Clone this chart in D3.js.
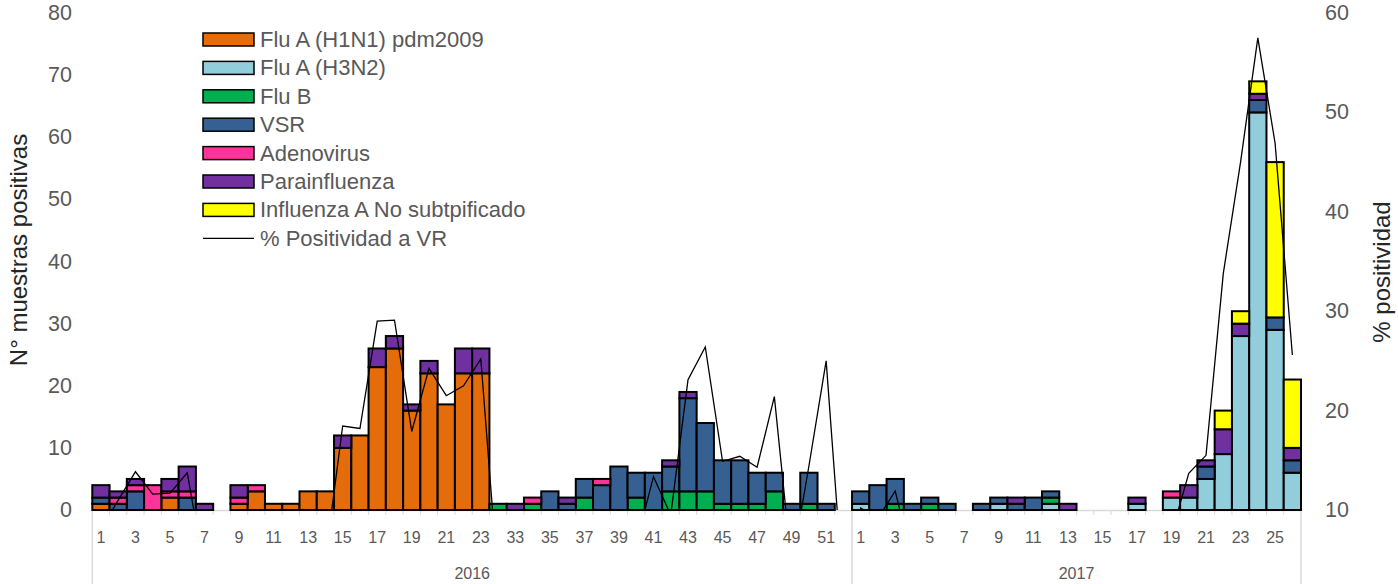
<!DOCTYPE html>
<html><head><meta charset="utf-8">
<script src="https://cdn.jsdelivr.net/npm/d3@7/dist/d3.min.js"></script>
<style>
html,body{margin:0;padding:0;background:#fff;}
text{font-family:"Liberation Sans",Arial,sans-serif;}
</style></head>
<body><svg id="c" width="1398" height="584"></svg>
<script>
// ---------- DATA ----------
const years = ["2016", "2017"];
const weeks2016 = [1,2,3,4,5,6,7,8,9,10,11,12,13,14,15,16,17,18,19,20,21,22,23,32,33,34,35,36,37,38,39,40,41,42,43,44,45,46,47,48,49,50,51,52];
const weeks2017 = [1,2,3,4,5,6,7,8,9,10,11,12,13,14,15,16,17,18,19,20,21,22,23,24,25,26];

const seriesNames = ["Flu A (H1N1) pdm2009","Flu A (H3N2)","Flu B","VSR","Adenovirus","Parainfluenza","Influenza A No subtpificado"];
const seriesColors = ["#E46C0A","#92CDDC","#00B050","#376092","#FF3399","#7030A0","#FFFF00"];
const lineName = "% Positividad a VR";

//                 2016 wk1..23                                              | 32..52                                          | 2017 wk1..26
const h1n1 =      [1,0,0,0,2,0,0,0,1,3,1,1,3,3,10,12,23,26,16,22,17,22,22,   0,0,0,0,0,0,0,0,0,0,0,0,0,0,0,0,0,0,0,0,0,        0,0,0,0,0,0,0,0,0,0,0,0,0,0,0,0,0,0,0,0,0,0,0,0,0,0];
const h3n2 =      [0,0,0,0,0,0,0,0,0,0,0,0,0,0,0,0,0,0,0,0,0,0,0,           0,0,0,0,0,0,0,0,0,0,0,0,0,0,0,0,0,0,0,0,0,        1,0,0,0,0,0,0,0,1,0,0,1,0,0,0,0,1,0,2,2,5,9,28,64,29,6];
const flub =      [0,0,0,0,0,0,0,0,0,0,0,0,0,0,0,0,0,0,0,0,0,0,0,           1,0,1,0,0,2,0,0,2,0,3,3,3,1,1,1,3,0,1,0,0,        0,0,1,0,1,0,0,0,0,0,0,1,0,0,0,0,0,0,0,0,0,0,0,0,0,0];
const vsr =       [1,1,3,0,0,2,0,0,0,0,0,0,0,0,0,0,0,0,0,0,0,0,0,           0,0,0,3,1,3,4,7,4,6,4,15,11,7,7,5,3,1,5,1,0,      2,4,4,1,1,1,0,1,1,1,2,1,0,0,0,0,0,0,0,0,2,0,0,2,2,2];
const adeno =     [0,1,1,4,1,1,0,0,1,1,0,0,0,0,0,0,0,0,0,0,0,0,0,           0,0,1,0,0,0,1,0,0,0,0,0,0,0,0,0,0,0,0,0,0,        0,0,0,0,0,0,0,0,0,0,0,0,0,0,0,0,0,0,1,0,0,0,0,0,0,0];
const parainf =   [2,1,1,0,2,4,1,0,2,0,0,0,0,0,2,0,3,2,1,2,0,4,4,           0,1,0,0,1,0,0,0,0,0,1,1,0,0,0,0,0,0,0,0,0,        0,0,0,0,0,0,0,0,0,1,0,0,1,0,0,0,1,0,0,2,1,4,2,1,0,2];
const fluANoSub = [0,0,0,0,0,0,0,0,0,0,0,0,0,0,0,0,0,0,0,0,0,0,0,           0,0,0,0,0,0,0,0,0,0,0,0,0,0,0,0,0,0,0,0,0,        0,0,0,0,0,0,0,0,0,0,0,0,0,0,0,0,0,0,0,0,0,3,2,2,25,11];
const positividad = [8.0,11.0,13.85,11.6,11.7,13.75,3.8,6,7,6,5,6,7,5.1,18.45,18.2,29.0,29.1,17.9,24.25,21.5,22.5,25.2,
                     2.8,6,7,6,5,7,6,8,6.65,13.35,9.5,23.1,26.4,14.9,15.4,14.3,21.4,4.3,14.4,25.0,1.5,
                     10.2,9.2,11.9,4.8,6,5,3,5,6,6,5,7,4,3,2,3,5,4,7.6,13.7,15.5,33.8,45.0,57.5,46.9,25.6];

const leftTicks = [0,10,20,30,40,50,60,70,80];
const rightTicks = [10,20,30,40,50,60];
const leftTitle = "N° muestras positivas";
const rightTitle = "% positividad";

// ---------- BUILD ----------
const cats = [];
weeks2016.forEach(w => cats.push({year: years[0], week: w}));
weeks2017.forEach(w => cats.push({year: years[1], week: w}));
const seriesData = [h1n1,h3n2,flub,vsr,adeno,parainf,fluANoSub];
const table = cats.map((c,i) => {
  const o = {i: i};
  seriesNames.forEach((n,k) => o[n] = seriesData[k][i]);
  return o;
});

const svg = d3.select("#c");
const L = 92.3, R = 1301, T = 13, B = 510;

const x = d3.scaleBand().domain(d3.range(cats.length)).range([L, R]).padding(0);
const y = d3.scaleLinear().domain([0, 80]).range([B, T]);
const y2 = d3.scaleLinear().domain([10, 60]).range([B, T]);

const axisGrey = "#D9D9D9", labelGrey = "#595959";

// category axis
const gx = svg.append("g");
gx.append("line").attr("x1", L).attr("x2", R).attr("y1", B+0.5).attr("y2", B+0.5)
  .attr("stroke", axisGrey).attr("stroke-width", 1.5);
d3.range(cats.length + 1).forEach(i => {
  const xx = i < cats.length ? x(i) : R;
  const isSep = (i === 0 || i === weeks2016.length || i === cats.length);
  gx.append("line").attr("x1", xx).attr("x2", xx).attr("y1", B).attr("y2", isSep ? 584 : B + 5)
    .attr("stroke", axisGrey).attr("stroke-width", isSep ? 1.5 : 1);
});
cats.forEach((c, i) => {
  const local = c.year === years[0] ? i : i - weeks2016.length;
  if (local % 2 === 0) {
    gx.append("text").attr("x", x(i) + x.bandwidth()/2).attr("y", 537)
      .attr("text-anchor", "middle").attr("dominant-baseline", "central")
      .attr("font-size", 16).attr("fill", labelGrey).text(c.week);
  }
});
[[0, weeks2016.length], [weeks2016.length, cats.length]].forEach((r, k) => {
  const x0 = x(r[0]), x1 = r[1] < cats.length ? x(r[1]) : R;
  gx.append("text").attr("x", (x0 + x1)/2).attr("y", 573)
    .attr("text-anchor", "middle").attr("dominant-baseline", "central")
    .attr("font-size", 16).attr("fill", labelGrey).text(years[k]);
});

// y axes
leftTicks.forEach(t => {
  svg.append("text").attr("x", 72).attr("y", y(t)).attr("text-anchor", "end")
    .attr("dominant-baseline", "central").attr("font-size", 21.5).attr("fill", labelGrey).text(t);
});
rightTicks.forEach(t => {
  svg.append("text").attr("x", 1325).attr("y", y2(t)).attr("text-anchor", "start")
    .attr("dominant-baseline", "central").attr("font-size", 21.5).attr("fill", labelGrey).text(t);
});
svg.append("text").attr("transform", "translate(18,250) rotate(-90)")
  .attr("text-anchor", "middle").attr("dominant-baseline", "central")
  .attr("font-size", 24).attr("fill", "#262626").text(leftTitle);
svg.append("text").attr("transform", "translate(1381,272) rotate(-90)")
  .attr("text-anchor", "middle").attr("dominant-baseline", "central")
  .attr("font-size", 24).attr("fill", "#262626").text(rightTitle);

// stacked bars
const stack = d3.stack().keys(seriesNames)(table);
const gb = svg.append("g");
stack.forEach((layer, k) => {
  gb.append("g").selectAll("rect")
    .data(layer.filter(d => d[1] - d[0] > 0))
    .join("rect")
    .attr("x", d => x(d.data.i))
    .attr("width", x.bandwidth())
    .attr("y", d => y(d[1]))
    .attr("height", d => y(d[0]) - y(d[1]))
    .attr("fill", seriesColors[k])
    .attr("stroke", "#000").attr("stroke-width", 2);
});

// line (clipped to plot area)
svg.append("clipPath").attr("id", "plotclip").append("rect")
  .attr("x", L).attr("y", 0).attr("width", R - L + 20).attr("height", B);
const line = d3.line().x((d, i) => x(i) + x.bandwidth()/2).y(d => y2(d));
svg.append("path").datum(positividad).attr("d", line)
  .attr("fill", "none").attr("stroke", "#000").attr("stroke-width", 1.3)
  .attr("clip-path", "url(#plotclip)");

// legend
const lg = svg.append("g");
const rowY = d => 39.5 + d * 28.4;
seriesNames.forEach((n, k) => {
  lg.append("rect").attr("x", 203).attr("y", rowY(k) - 6.5).attr("width", 51).attr("height", 13)
    .attr("fill", seriesColors[k]).attr("stroke", "#000").attr("stroke-width", 1.5);
  lg.append("text").attr("x", 260).attr("y", rowY(k)).attr("dominant-baseline", "central")
    .attr("font-size", 22).attr("fill", labelGrey).text(n);
});
lg.append("line").attr("x1", 203).attr("x2", 254).attr("y1", rowY(7)).attr("y2", rowY(7))
  .attr("stroke", "#000").attr("stroke-width", 1.3);
lg.append("text").attr("x", 260).attr("y", rowY(7)).attr("dominant-baseline", "central")
  .attr("font-size", 22).attr("fill", labelGrey).text(lineName);
</script>
</body></html>
